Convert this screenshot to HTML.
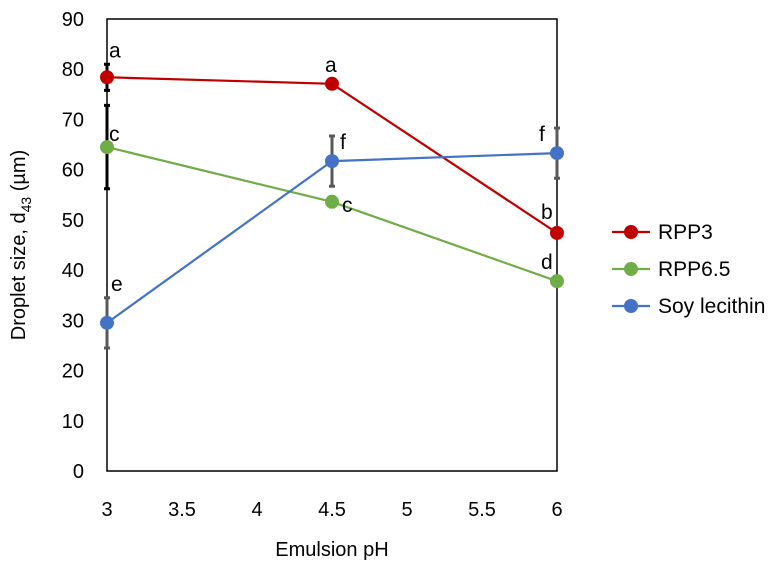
<!DOCTYPE html>
<html><head><meta charset="utf-8"><style>
body{margin:0;background:#fff}
text{font-family:"Liberation Sans",sans-serif;fill:#000}
</style></head><body>
<svg id="c" width="772" height="566"></svg>
<script>
const xVals=[3,4.5,6];
const rpp3=[78.4,77.1,47.4];
const rpp65=[64.5,53.6,37.8];
const soy=[29.5,61.7,63.3];
const rpp3Err=[2.6,0,1];
const rpp65Err=[8.3,1,0];
const soyErr=[5,5,5];
const rpp3Lbl=["a","a","b"];
const rpp65Lbl=["c","c","d"];
const soyLbl=["e","f","f"];
const xTicks=[3,3.5,4,4.5,5,5.5,6];
const yTicks=[0,10,20,30,40,50,60,70,80,90];
const NS="http://www.w3.org/2000/svg";
const svg=document.getElementById('c');
const X=v=>107+(v-3)/3*450;
const Y=v=>471-v*(452/90);
function el(t,a,txt){const e=document.createElementNS(NS,t);for(const k in a)e.setAttribute(k,a[k]);if(txt!==undefined)e.textContent=txt;svg.appendChild(e);return e;}
let e=el('rect',{x:107,y:19,width:450,height:452,fill:'none',stroke:'#000','stroke-width':1.5});


yTicks.forEach(t=>{const l=el('text',{x:84,y:Y(t)+7,'font-size':20,'text-anchor':'end'},t);

});
xTicks.forEach(t=>{const l=el('text',{x:X(t),y:516,'font-size':20,'text-anchor':'middle'},t);

});
e=el('text',{x:332,y:556,'font-size':20,'text-anchor':'middle'},'Emulsion pH');


e=el('text',{transform:'translate(25,245) rotate(-90)','font-size':20,'text-anchor':'middle'});
e.innerHTML='Droplet size, d<tspan font-size="14" dy="6">43</tspan><tspan dy="-6"> (µm)</tspan>';


const series=[
 {name:'rpp3',vals:rpp3,err:rpp3Err,lbl:rpp3Lbl,col:'#c00000',ec:['#000','#595959','#595959']},
 {name:'rpp6.5',vals:rpp65,err:rpp65Err,lbl:rpp65Lbl,col:'#70ad47',ec:['#000','#404040','#595959']},
 {name:'soy-lecithin',vals:soy,err:soyErr,lbl:soyLbl,col:'#4472c4',ec:['#595959','#595959','#595959']}];
const offs={'rpp3':[[2,-22],[-7,-14],[-16,-16]],'rpp6.5':[[2,-8],[10,8],[-16,-14]],'soy-lecithin':[[4,-34],[8,-14],[-18,-14]]};
series.forEach(s=>{
 s.vals.forEach((v,i)=>{if(s.err[i]>0){const x=X(xVals[i]);
  const b=el('path',{d:`M${x},${Y(v+s.err[i])}V${Y(v-s.err[i])}M${x-3},${Y(v+s.err[i])}h6M${x-3},${Y(v-s.err[i])}h6`,stroke:s.ec[i],'stroke-width':3,fill:'none'});
  
  }});
 const p=el('polyline',{points:s.vals.map((v,i)=>X(xVals[i])+','+Y(v)).join(' '),fill:'none',stroke:s.col,'stroke-width':2.2});
 
 
});
series.forEach(s=>{
 s.vals.forEach((v,i)=>{const c=el('circle',{cx:X(xVals[i]),cy:Y(v),r:7,fill:s.col});
  
  
  const o=offs[s.name][i];
  const t=el('text',{x:X(xVals[i])+o[0],y:Y(v)+o[1]+2,'font-size':21},s.lbl[i]);
  
  });
});
const legendNames=['RPP3','RPP6.5','Soy lecithin'];
series.forEach((s,i)=>{const y=232+i*37;
 const g=el('line',{x1:612,y1:y,x2:650,y2:y,stroke:s.col,'stroke-width':2.2});
 
 
 const c=el('circle',{cx:631,cy:y,r:7,fill:s.col});
 
 
 const t=el('text',{x:658,y:y+7,'font-size':21},legendNames[i]);
 
 });
</script>
</body></html>
